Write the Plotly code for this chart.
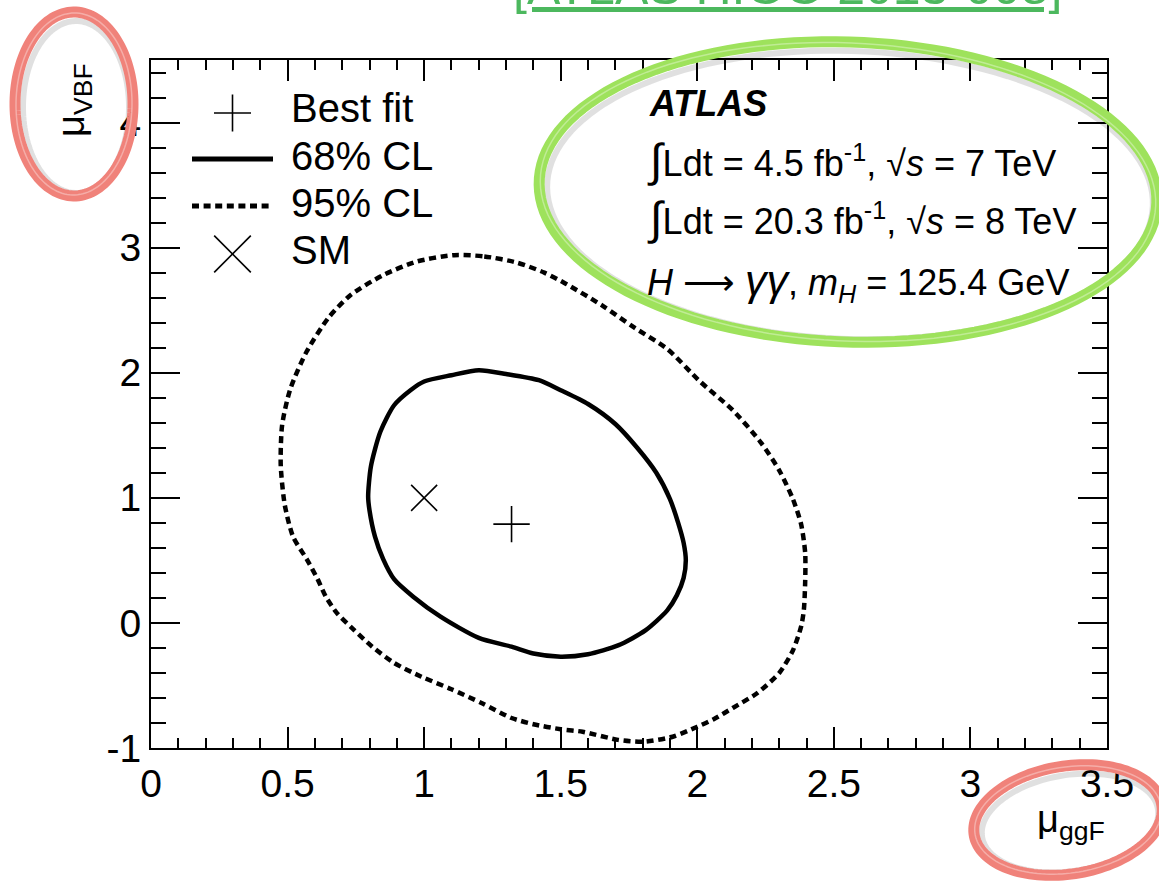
import numpy as np
import plotly.graph_objects as go

# ---------------- data ----------------
cl68_x = [1.20, 1.30, 1.42, 1.50, 1.60, 1.70, 1.78, 1.85, 1.90, 1.93, 1.95, 1.958, 1.95, 1.925, 1.89,
          1.81, 1.71, 1.60, 1.50, 1.40, 1.32, 1.20, 1.06, 0.96, 0.89, 0.85, 0.82, 0.80, 0.795, 0.805,
          0.84, 0.89, 0.95, 1.00, 1.10, 1.20]
cl68_y = [2.02, 1.99, 1.94, 1.86, 1.75, 1.59, 1.40, 1.20, 0.99, 0.80, 0.64, 0.50, 0.36, 0.22, 0.10,
          -0.06, -0.18, -0.25, -0.27, -0.245, -0.19, -0.12, 0.05, 0.21, 0.35, 0.51, 0.69, 0.90, 1.01, 1.25,
          1.53, 1.74, 1.86, 1.93, 1.98, 2.02]

cl95_x = [1.11, 1.22, 1.34, 1.44, 1.52, 1.65, 1.77, 1.89, 2.01, 2.13, 2.23, 2.30, 2.35, 2.38, 2.395,
          2.395, 2.39, 2.38, 2.35, 2.30, 2.22, 2.13, 2.06, 2.00, 1.91, 1.80, 1.71, 1.58, 1.50, 1.40,
          1.32, 1.21, 1.10, 0.99, 0.89, 0.81, 0.74, 0.68, 0.64, 0.61, 0.57, 0.52, 0.49, 0.475, 0.48,
          0.51, 0.57, 0.65, 0.73, 0.85, 0.975, 1.11]
cl95_y = [2.94, 2.93, 2.88, 2.80, 2.71, 2.54, 2.36, 2.19, 1.93, 1.70, 1.45, 1.22, 0.99, 0.79, 0.56,
          0.33, 0.10, -0.03, -0.22, -0.40, -0.56, -0.68, -0.77, -0.83, -0.91, -0.95, -0.935, -0.87, -0.85, -0.81,
          -0.76, -0.64, -0.53, -0.43, -0.32, -0.19, -0.05, 0.08, 0.21, 0.35, 0.51, 0.69, 0.94, 1.26, 1.58,
          1.87, 2.17, 2.44, 2.62, 2.78, 2.89, 2.94]

best_fit_x = [1.32]
best_fit_y = [0.79]
sm_x = [1.0]
sm_y = [1.0]

legend_names = ["Best fit", "68% CL", "95% CL", "SM"]
x_range = [0, 3.5]
y_range = [-1, 4.5]
y_tick_vals = [-1, 0, 1, 2, 3, 4]
y_tick_text = ["-1", "0", "1", "2", "3", "4"]

# ---------------- figure ----------------
W, H = 1159, 881
ML, MR, MT, MB = 151, 52, 60, 133
PW, PH = W - ML - MR, H - MT - MB
FONT = "Liberation Sans, Arial, Helvetica, sans-serif"
LW = 4.5
DASH = "7px,4.6px"


def px2paper(px, py):
    return (px - ML) / PW, (H - MB - py) / PH


fig = go.Figure()
fig.add_trace(go.Scatter(x=cl68_x, y=cl68_y, mode="lines", name=legend_names[1],
                         line=dict(color="black", width=LW, shape="spline", smoothing=0.7)))
fig.add_trace(go.Scatter(x=cl95_x, y=cl95_y, mode="lines", name=legend_names[2],
                         line=dict(color="black", width=LW, dash=DASH, shape="spline", smoothing=0.7)))
fig.add_trace(go.Scatter(x=best_fit_x, y=best_fit_y, mode="markers", name=legend_names[0],
                         marker=dict(symbol="cross-thin", size=26, color="black",
                                     line=dict(color="black", width=1.6))))
fig.add_trace(go.Scatter(x=sm_x, y=sm_y, mode="markers", name=legend_names[3],
                         marker=dict(symbol="x-thin", size=26, color="black",
                                     line=dict(color="black", width=1.6))))

axis_common = dict(showgrid=False, zeroline=False, showline=True, linecolor="black", linewidth=2,
                   mirror="ticks", ticks="inside", tickcolor="black", tickwidth=2,
                   tickfont=dict(family=FONT, size=39, color="black"))
fig.update_xaxes(range=x_range, tick0=0, dtick=0.5, ticklen=21,
                 minor=dict(dtick=0.1, ticks="inside", ticklen=10, tickwidth=2, tickcolor="black"),
                 **axis_common)
fig.update_yaxes(range=y_range, tickmode="array", tickvals=y_tick_vals, ticktext=y_tick_text, ticklen=29,
                 minor=dict(tickmode="linear", tick0=0, dtick=0.2, ticks="inside", ticklen=15,
                            tickwidth=2, tickcolor="black"),
                 **axis_common)

fig.update_layout(
    width=W, height=H,
    margin=dict(l=ML, r=MR, t=MT, b=MB, pad=0),
    paper_bgcolor="white", plot_bgcolor="white",
    font=dict(family=FONT, color="black"),
    showlegend=False,
)

ann = []
shapes = []


def add_text(text, px, py, size, xanchor="left", yanchor="middle", color="black", angle=0):
    x, y = px2paper(px, py)
    ann.append(dict(text=text, x=x, y=y, xref="paper", yref="paper", xanchor=xanchor, yanchor=yanchor,
                    showarrow=False, textangle=angle, font=dict(family=FONT, size=size, color=color)))


def add_seg(x0, y0, x1, y1, width, dash="solid", color="black"):
    a0, b0 = px2paper(x0, y0)
    a1, b1 = px2paper(x1, y1)
    shapes.append(dict(type="line", xref="paper", yref="paper", x0=a0, y0=b0, x1=a1, y1=b1,
                       line=dict(color=color, width=width, dash=dash)))


# ---- legend (drawn in the top-left corner of the frame) ----
LEG_SYM_X0, LEG_SYM_X1, LEG_TXT_X = 192, 273, 289
row_y = [108, 156, 203, 250]
sym_half = 18.5
cx = (LEG_SYM_X0 + LEG_SYM_X1) / 2
# Best fit: "+"
add_seg(cx - sym_half, row_y[0] + 5, cx + sym_half, row_y[0] + 5, 1.6)
add_seg(cx, row_y[0] + 5 - sym_half, cx, row_y[0] + 5 + sym_half, 1.6)
# 68% CL: solid line
add_seg(LEG_SYM_X0, row_y[1] + 3, LEG_SYM_X1, row_y[1] + 3, 5)
# 95% CL: dashed line
add_seg(LEG_SYM_X0, row_y[2] + 3, LEG_SYM_X1, row_y[2] + 3, 5, dash=DASH)
# SM: "x"
d = sym_half / np.sqrt(2) * 1.4
add_seg(cx - d, row_y[3] + 4 - d, cx + d, row_y[3] + 4 + d, 1.6)
add_seg(cx - d, row_y[3] + 4 + d, cx + d, row_y[3] + 4 - d, 1.6)
for name, yy in zip(legend_names, row_y):
    add_text(name, LEG_TXT_X, yy, 40)

# ---- ATLAS label block ----
add_text("<b><i>ATLAS</i></b>", 647, 103, 36)
add_text("<span style='font-size:46px'>∫</span>Ldt = 4.5 fb<sup>-1</sup>, √<i>s</i> = 7 TeV", 645, 160, 36)
add_text("<span style='font-size:46px'>∫</span>Ldt = 20.3 fb<sup>-1</sup>, √<i>s</i> = 8 TeV", 645, 218, 36)
add_text("<i>H</i> ⟶ <span style='font-size:43px'><i>γγ</i></span>, "
         "<i>m</i><sub><i>H</i></sub> = 125.4 GeV", 645, 282, 36)

# axis titles
add_text("μ<sub>VBF</sub>", 74, 100, 38, xanchor="center", angle=-90)
add_text("μ<sub>ggF</sub>", 1107, 822, 38, xanchor="right")

# reference link text at the top (partly cut off)
add_text("<u>[ATLAS HIGG 2013-008]</u>", 787, 17, 50, xanchor="center", yanchor="bottom", color="#4CB85E")

# ---- hand-drawn highlight ellipses ----


def ellipse_path(cx, cy, a, b, rot_deg, dx=0, dy=0):
    t = np.linspace(0, 2 * np.pi, 140)
    r = np.deg2rad(rot_deg)
    xs = cx + dx + a * np.cos(t) * np.cos(r) - b * np.sin(t) * np.sin(r)
    ys = cy + dy + a * np.cos(t) * np.sin(r) + b * np.sin(t) * np.cos(r)
    pts = [px2paper(x, y) for x, y in zip(xs, ys)]
    return "M " + " L ".join(f"{p[0]:.5f},{p[1]:.5f}" for p in pts) + " Z"


for (ecx, ecy, a, b, rot, col) in [
    (848, 192, 309, 150, 2, "rgb(158,226,92)"),
    (74, 104, 59, 92, 0, "rgb(240,130,122)"),
    (1068, 820, 95, 54, -9, "rgb(240,130,122)"),
]:
    shapes.append(dict(type="path", xref="paper", yref="paper", layer="above",
                       path=ellipse_path(ecx, ecy, a - 6, b - 6, rot, 2, 3),
                       line=dict(color="rgba(0,0,0,0.12)", width=6)))
    shapes.append(dict(type="path", xref="paper", yref="paper", layer="above",
                       path=ellipse_path(ecx, ecy, a, b, rot),
                       line=dict(color=col, width=11)))
    shapes.append(dict(type="path", xref="paper", yref="paper", layer="above",
                       path=ellipse_path(ecx, ecy, a - 1, b - 1, rot + 0.6),
                       line=dict(color="rgba(255,255,255,0.35)", width=1.5)))

fig.update_layout(annotations=ann, shapes=shapes)

fig.write_html("out.html")
